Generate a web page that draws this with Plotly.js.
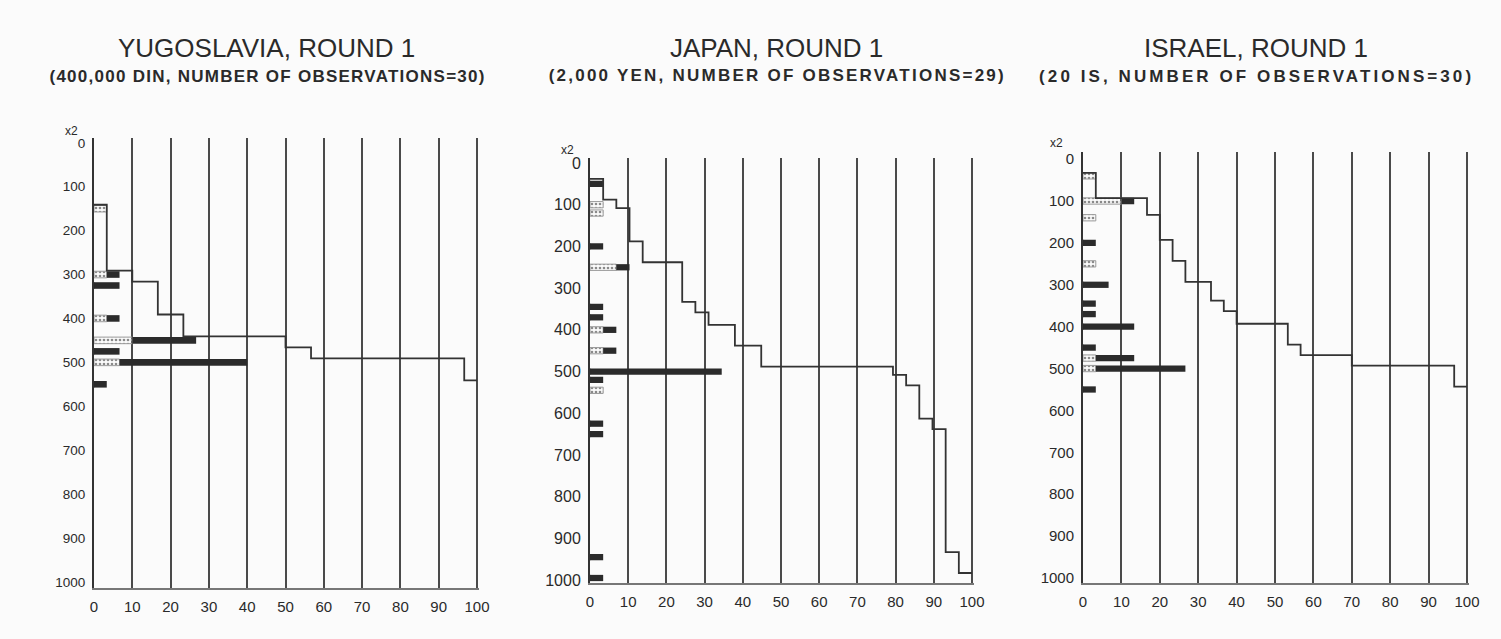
<!DOCTYPE html>
<html>
<head>
<meta charset="utf-8">
<script src="https://cdn.plot.ly/plotly-3.0.1.min.js"></script>
<style>
  html, body { margin: 0; padding: 0; background: #fbfbfb; }
  #chart { width: 1501px; height: 639px; }
</style>
</head>
<body>
<div id="chart"></div>
<script>
// ---------------- DATA ----------------
// Yugoslavia, round 1 (400,000 DIN), 30 observations
const yugoOffers   = [150, 300, 325, 400, 450, 475, 500, 550];
const yugoAccepted = [0, 1, 2, 1, 5, 2, 10, 1];
const yugoRejected = [1, 1, 0, 1, 3, 0, 2, 0];
const yugoN = 30;

// Japan, round 1 (2,000 YEN), 29 observations
const japanOffers   = [50, 100, 120, 200, 250, 345, 370, 400, 450, 500, 520, 545, 625, 650, 945, 995];
const japanAccepted = [1, 0, 0, 1, 1, 1, 1, 1, 1, 10, 1, 0, 1, 1, 1, 1];
const japanRejected = [0, 1, 1, 0, 2, 0, 0, 1, 1, 0, 0, 1, 0, 0, 0, 0];
const japanN = 29;

// Israel, round 1 (20 IS), 30 observations
const israelOffers   = [40, 100, 140, 200, 250, 300, 345, 370, 400, 450, 475, 500, 550];
const israelAccepted = [0, 1, 0, 1, 0, 2, 1, 1, 4, 1, 3, 7, 1];
const israelRejected = [1, 3, 1, 0, 1, 0, 0, 0, 0, 0, 1, 1, 0];
const israelN = 30;

const titles = ["YUGOSLAVIA, ROUND 1", "JAPAN, ROUND 1", "ISRAEL, ROUND 1"];
const subtitles = [
  "(400,000 DIN, NUMBER OF OBSERVATIONS=30)",
  "(2,000 YEN, NUMBER OF OBSERVATIONS=29)",
  "(20 IS, NUMBER OF OBSERVATIONS=30)"
];
const yTickVals = [0, 100, 200, 300, 400, 500, 600, 700, 800, 900, 1000];
const xTickVals = [0, 10, 20, 30, 40, 50, 60, 70, 80, 90, 100];
const scaleNote = "x2";

// ---------------- BUILD ----------------
const W = 1501, H = 639;
const FONT = "Liberation Sans, Arial, sans-serif";
const INK = "#2a2a2a";
const XMAX = 100.6;

const panels = [
  {offers: yugoOffers, acc: yugoAccepted, rej: yugoRejected, n: yugoN,
   xpx: [94, 477], ypx: [138, 588], yrange: [1014, -11], yfont: 13.5, shift: 9,
   title: [266, 48], sub: [267, 77], subW: 435, note: [71, 131]},
  {offers: japanOffers, acc: japanAccepted, rej: japanRejected, n: japanN,
   xpx: [590, 972], ypx: [158, 583], yrange: [1007, -12], yfont: 16, shift: 12,
   title: [776, 48], sub: [776, 76], subW: 455, note: [567, 150]},
  {offers: israelOffers, acc: israelAccepted, rej: israelRejected, n: israelN,
   xpx: [1083, 1467], ypx: [152, 583], yrange: [1012, -17], yfont: 15, shift: 7,
   title: [1256, 48], sub: [1255, 77], subW: 432, note: [1056, 143]}
];

const traces = [];
const layout = {
  width: W, height: H,
  margin: {l: 0, r: 0, t: 0, b: 0},
  paper_bgcolor: "#fbfbfb",
  plot_bgcolor: "rgba(0,0,0,0)",
  showlegend: false,
  barmode: "overlay",
  font: {family: FONT, color: INK},
  annotations: []
};
const subWidths = [];

panels.forEach((p, i) => {
  const k = i === 0 ? "" : String(i + 1);
  const xa = "x" + k, ya = "y" + k;
  const pct = c => c * 100 / p.n;
  const pxPerUnit = (p.xpx[1] - p.xpx[0]) / 100;
  const rightPx = p.xpx[1] + (XMAX - 100) * pxPerUnit;

  // rejected offers (hatched)
  traces.push({
    type: "bar", orientation: "h", xaxis: xa, yaxis: ya,
    y: p.offers, x: p.rej.map(pct), base: 0, width: 15,
    marker: {color: "rgba(240,240,240,0.9)",
             pattern: {shape: ".", fgcolor: "#8a8a8a", size: 4, solidity: 0.35},
             line: {color: "#9a9a9a", width: 1}},
    hoverinfo: "skip"
  });
  // accepted offers (solid)
  traces.push({
    type: "bar", orientation: "h", xaxis: xa, yaxis: ya,
    y: p.offers, x: p.acc.map(pct), base: p.rej.map(pct), width: 15,
    marker: {color: "#2b2b2b", line: {width: 0}},
    hoverinfo: "skip"
  });
  // cumulative distribution step line
  const lx = [0], ly = [p.offers[0] - p.shift];
  let cum = 0;
  p.offers.forEach((o, j) => {
    cum += p.acc[j] + p.rej[j];
    lx.push(pct(cum));
    ly.push(o - p.shift);
  });
  traces.push({
    type: "scatter", mode: "lines", xaxis: xa, yaxis: ya,
    x: lx, y: ly, line: {shape: "vh", color: "#333", width: 1.8},
    hoverinfo: "skip"
  });

  layout["xaxis" + k] = {
    domain: [p.xpx[0] / W, rightPx / W],
    anchor: ya, range: [0, XMAX], fixedrange: true,
    tickvals: xTickVals, ticks: "", ticklabelstandoff: 4,
    tickfont: {size: 15, family: FONT, color: INK},
    showgrid: true, gridcolor: "#4a4a4a", gridwidth: 2,
    zeroline: false,
    showline: true, linecolor: "#777", linewidth: 1.5
  };
  layout["yaxis" + k] = {
    domain: [1 - p.ypx[1] / H, 1 - p.ypx[0] / H],
    anchor: xa, range: p.yrange, fixedrange: true,
    tickvals: yTickVals, ticks: "", ticklabelstandoff: 4,
    tickfont: {size: p.yfont, family: FONT, color: INK},
    showgrid: false, zeroline: false,
    showline: true, linecolor: "#333", linewidth: 2
  };

  layout.annotations.push({
    xref: "paper", yref: "paper", x: p.title[0] / W, y: 1 - p.title[1] / H,
    xanchor: "center", yanchor: "middle", showarrow: false,
    text: titles[i], font: {size: 26, family: FONT, color: INK}
  });
  layout.annotations.push({
    xref: "paper", yref: "paper", x: p.sub[0] / W, y: 1 - p.sub[1] / H,
    xanchor: "center", yanchor: "middle", showarrow: false,
    text: subtitles[i], font: {size: 17, family: FONT, color: INK, weight: "bold"}
  });
  subWidths.push(p.subW);
  layout.annotations.push({
    xref: "paper", yref: "paper", x: p.note[0] / W, y: 1 - p.note[1] / H,
    xanchor: "center", yanchor: "middle", showarrow: false,
    text: scaleNote, font: {size: 12, family: FONT, color: INK}
  });
});

Plotly.newPlot("chart", traces, layout, {staticPlot: true, displayModeBar: false}).then(gd => {
  // stretch the subtitle lines to the letter spacing of the original
  const texts = gd.querySelectorAll(".annotation-text");
  texts.forEach(t => {
    const idx = subtitles.indexOf(t.textContent);
    if (idx >= 0) {
      t.setAttribute("textLength", subWidths[idx]);
      t.setAttribute("lengthAdjust", "spacing");
    }
  });
});
</script>
</body>
</html>
